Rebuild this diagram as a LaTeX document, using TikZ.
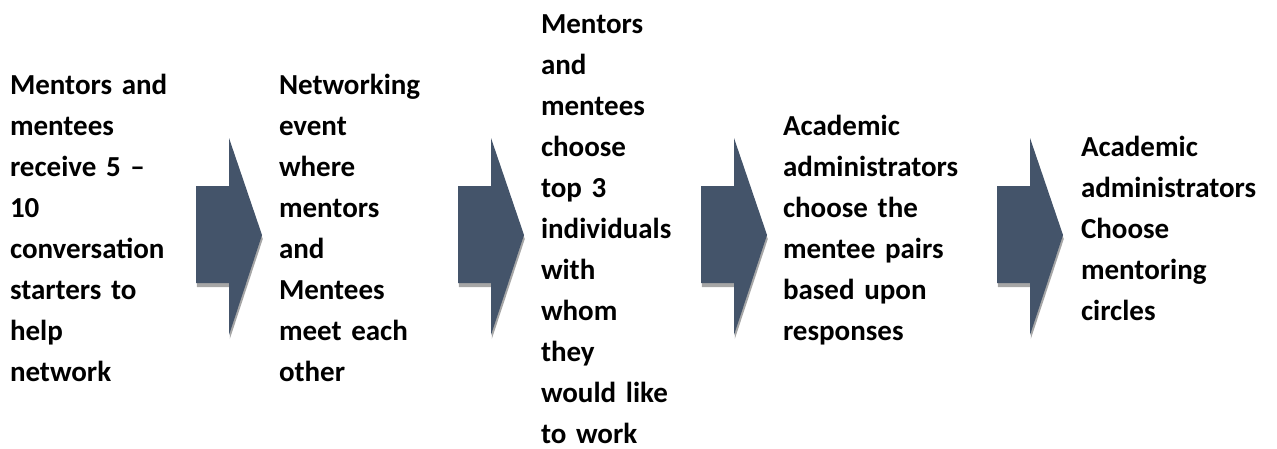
\documentclass[tikz,border=0pt]{standalone}
\usepackage{fontspec}
\setmainfont{Carlito}
\usepackage{tikz}
\usetikzlibrary{shadows}
\definecolor{slate}{HTML}{44546A}
\definecolor{shade}{HTML}{A6A6A6}

\begin{document}
\begin{tikzpicture}[
x=1pt, y=-1pt,
    T/.style = {anchor=base west, inner sep=0pt, outer sep=0pt,% text of one stage
                text width=190pt, align=left,
                font=\fontsize{29}{41}\selectfont\bfseries},
    R/.style = {fill=slate, draw=none,% block arrow between stages
                drop shadow={shadow xshift=0.8pt, shadow yshift=-4pt,
                             fill=shade, opacity=1}},
                        ]
\useasboundingbox (0,0) rectangle (1277,448);
\node[T] (t1) at (10,94.5)  {Mentors and\\ mentees\\ receive 5 \textendash\\ 10\\
                             conversation\\ starters to\\ help\\ network};
\node[T] (t2) at (279,94.5) {Networking\\ event\\ where\\ mentors\\ and\\
                             Mentees\\ meet each\\ other};
\node[T] (t3) at (541,33)   {Mentors\\ and\\ mentees\\ choose\\ top 3\\ individuals\\
                             with\\ whom\\ they\\ would like\\ to work};
\node[T] (t4) at (783,135.5) {Academic\\ administrators\\ choose the\\ mentee pairs\\
                             based upon\\ responses};
\node[T] (t5) at (1081,156) {Academic\\ administrators\\ Choose\\ mentoring\\ circles};
\foreach \x in {196,458,701,997}% <-- left ends of the arrows
    \path[R] (\x,186) -- ++(33,0) -- ++(0,-48) -- ++(33,97)
             -- ++(-33,100) -- ++(0,-52) -- ++(-33,0) -- cycle;
\end{tikzpicture}
\end{document}
